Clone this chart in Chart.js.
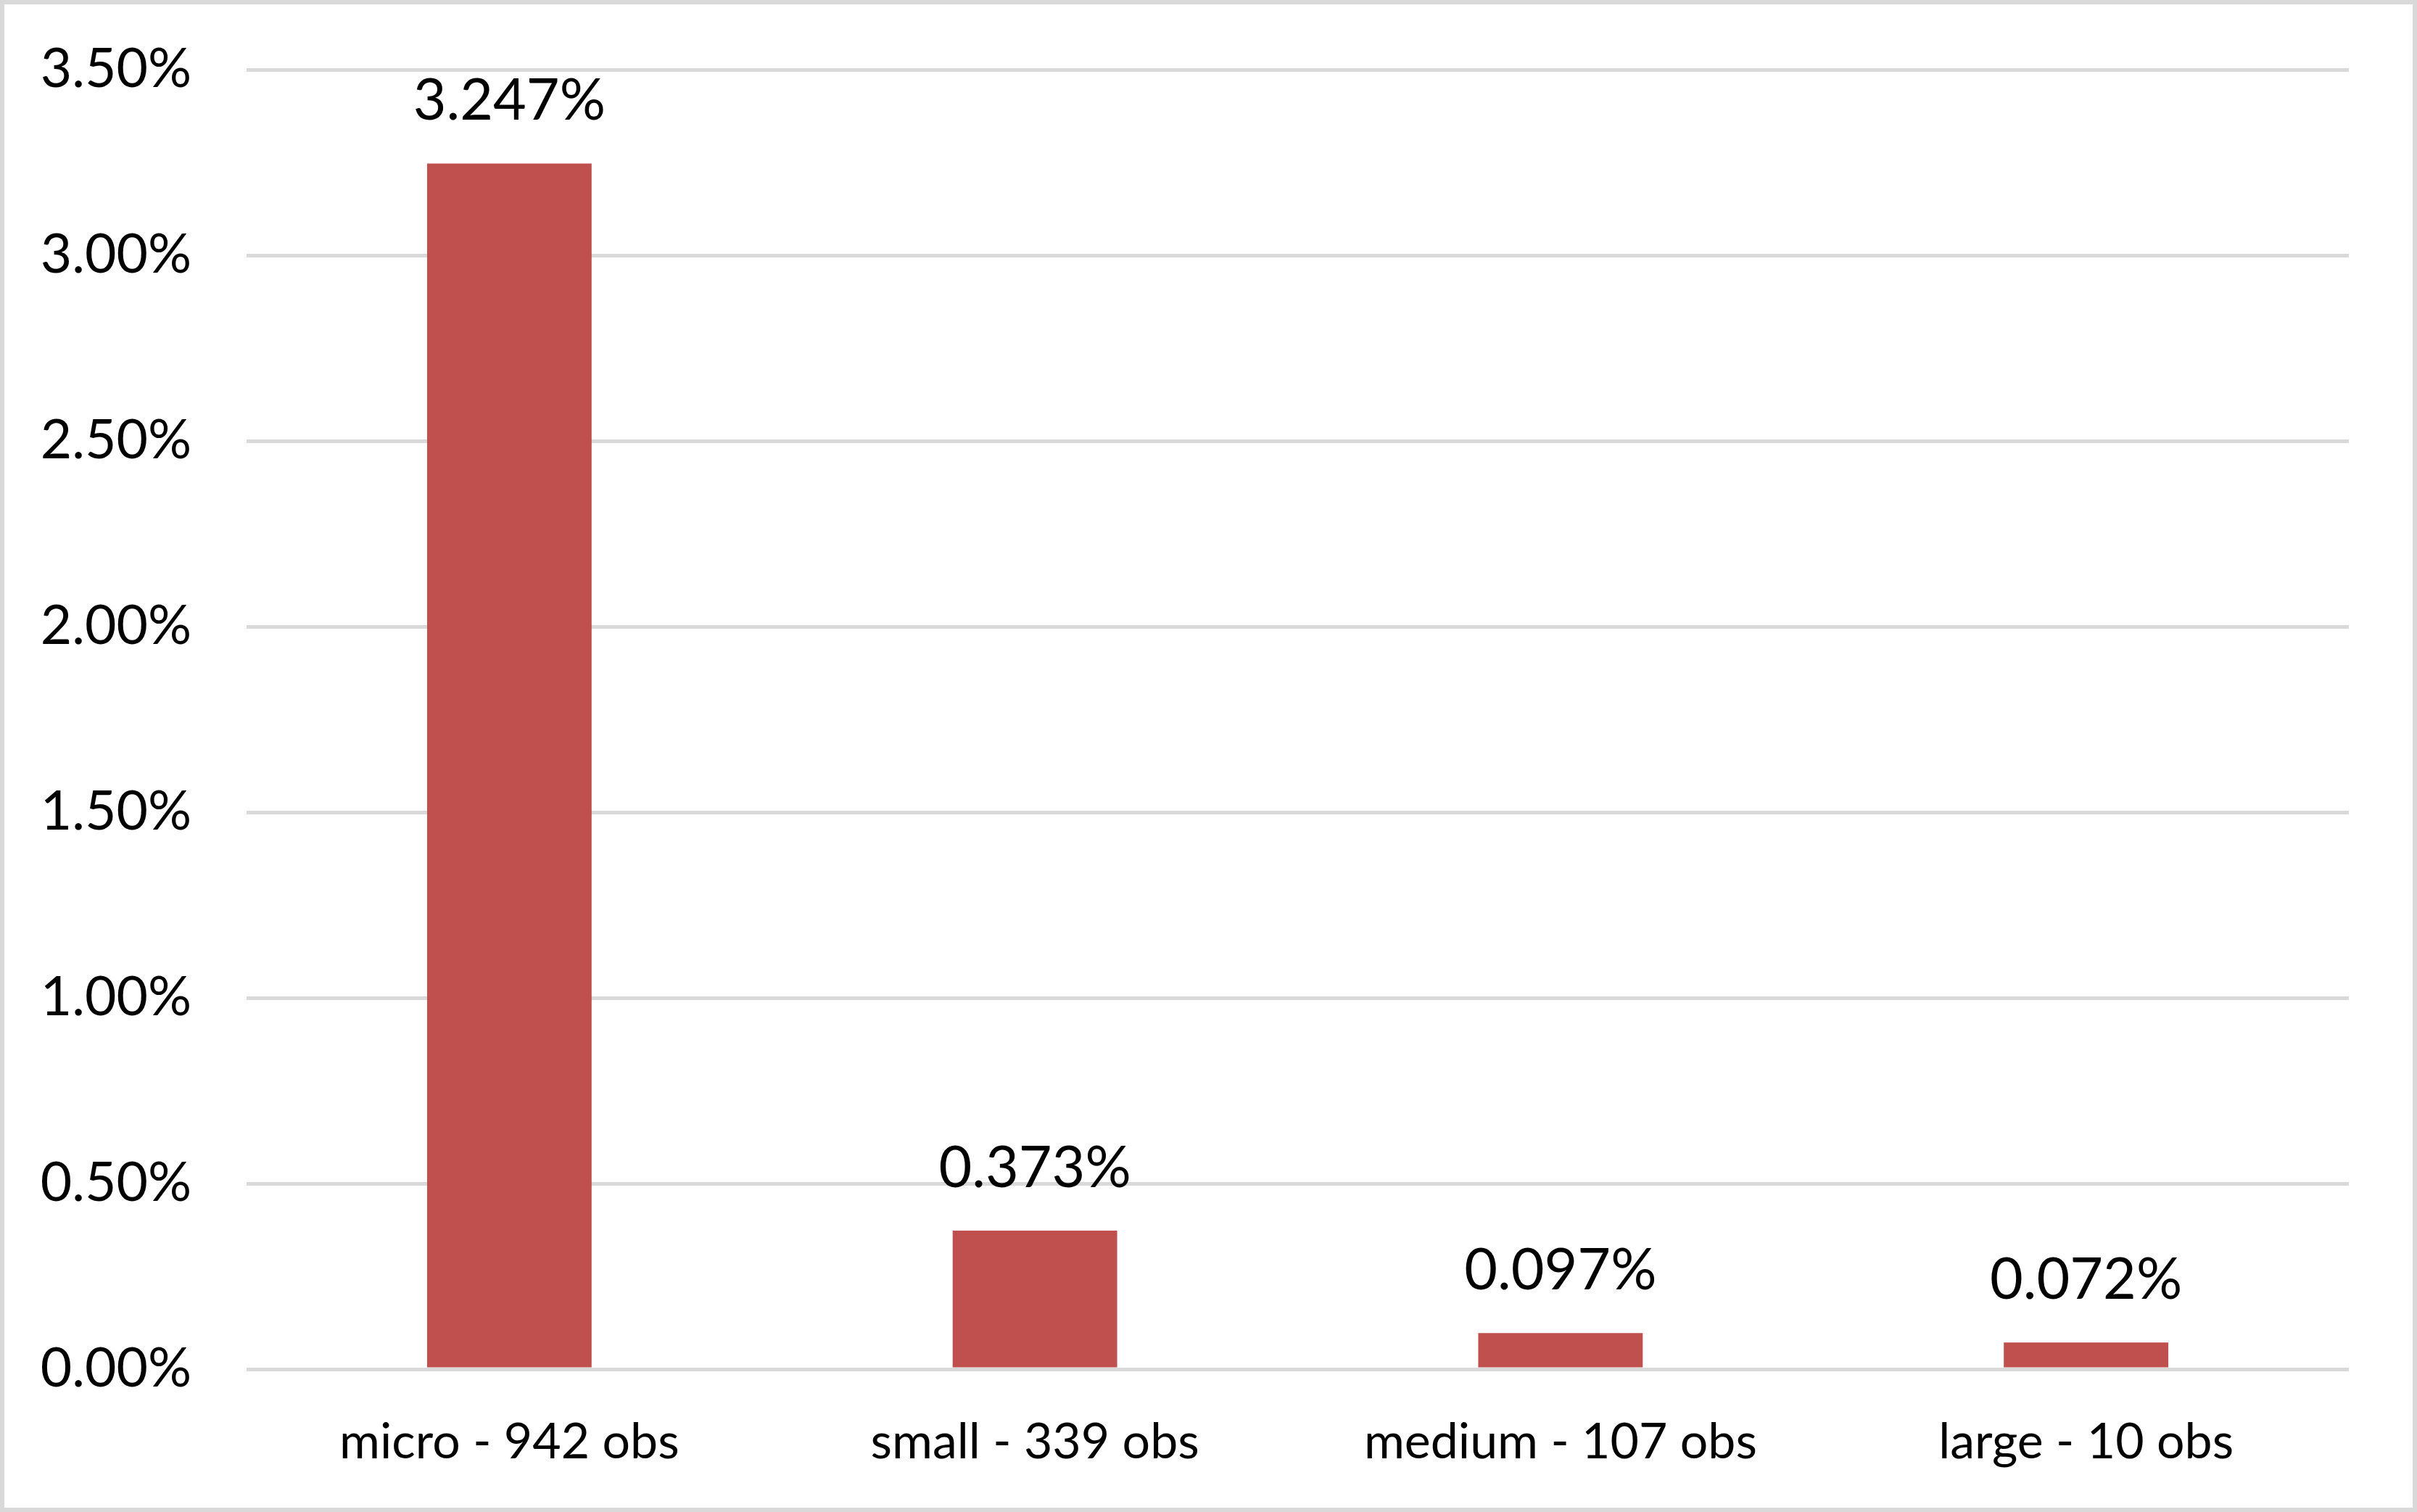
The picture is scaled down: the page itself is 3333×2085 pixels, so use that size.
<!DOCTYPE html>
<html>
<head>
<meta charset="utf-8">
<script src="https://cdn.jsdelivr.net/npm/chart.js@4/dist/chart.umd.min.js"></script>
<style>
  html, body { margin: 0; padding: 0; background: #fff; }
  #wrap { width: 3333px; height: 2085px; position: relative; }
</style>
</head>
<body>
<div id="wrap"><canvas id="chart" width="3333" height="2085"></canvas></div>
<script>
const categories = ["micro - 942 obs", "small - 339 obs", "medium - 107 obs", "large - 10 obs"];
const shares = [3.247, 0.373, 0.097, 0.072];
const valueLabels = ["3.247%", "0.373%", "0.097%", "0.072%"];
const yMax = 3.5;
const yStep = 0.5;

const FONT = "Lato, 'Open Sans', sans-serif";

// grey frame round the whole picture
const framePlugin = {
  id: "frame",
  beforeDraw(chart) {
    const c = chart.ctx;
    c.save();
    c.fillStyle = "#fff";
    c.fillRect(0, 0, chart.width, chart.height);
    c.strokeStyle = "#d9d9d9";
    c.lineWidth = 6;
    c.strokeRect(3, 3, chart.width - 6, chart.height - 6);
    c.restore();
  },
};

// value text above each bar
const valuePlugin = {
  id: "values",
  afterDatasetsDraw(chart) {
    const c = chart.ctx;
    const meta = chart.getDatasetMeta(0);
    c.save();
    c.fillStyle = "#000";
    c.font = "79px " + FONT;
    c.textAlign = "center";
    c.textBaseline = "middle";
    meta.data.forEach((bar, i) => {
      c.fillText(valueLabels[i], bar.x, bar.y - 86);
    });
    c.restore();
  },
};

Chart.defaults.font.family = FONT;
Chart.defaults.color = "#000";

const ctx = document.getElementById("chart").getContext("2d");
const shareChart = new Chart(ctx, {
  type: "bar",
  data: {
    labels: categories,
    datasets: [
      {
        data: shares,
        backgroundColor: "#C0504D",
        borderWidth: 0,
        categoryPercentage: 1,
        barPercentage: 0.313,
      },
    ],
  },
  options: {
    responsive: false,
    animation: false,
    devicePixelRatio: 1,
    layout: { padding: { top: 96, right: 94, bottom: 0, left: 0 } },
    plugins: {
      legend: { display: false },
      tooltip: { enabled: false },
    },
    scales: {
      x: {
        grid: { display: false },
        border: { display: false },
        ticks: { font: { size: 68 }, padding: 52, color: "#000" },
        afterFit(scale) {
          scale.height = 197;
        },
      },
      y: {
        min: 0,
        max: yMax,
        grid: { color: "#d9d9d9", lineWidth: 5, drawTicks: false },
        border: { display: false },
        ticks: {
          stepSize: yStep,
          font: { size: 75 },
          padding: 76,
          color: "#000",
          callback: (v) => v.toFixed(2) + "%",
        },
        afterFit(scale) {
          scale.width = 340;
          scale.paddingTop = 0;
          scale.paddingBottom = 0;
        },
      },
    },
  },
  plugins: [framePlugin, valuePlugin],
});
</script>
</body>
</html>
